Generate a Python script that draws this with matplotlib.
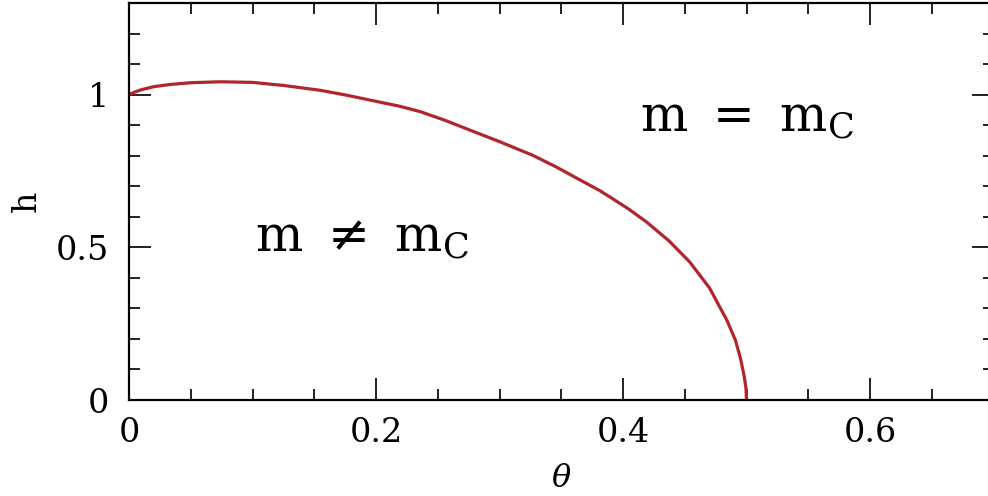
import matplotlib
matplotlib.use("Agg")
import matplotlib.pyplot as plt
from matplotlib.ticker import MultipleLocator

# phase boundary h(theta)
theta = [0.0, 0.005, 0.01, 0.02, 0.033, 0.05, 0.074, 0.10, 0.125, 0.155, 0.175, 0.20,
         0.219, 0.236, 0.255, 0.274, 0.30, 0.327, 0.345, 0.365, 0.381, 0.392, 0.405,
         0.419, 0.437, 0.454, 0.470, 0.484, 0.491, 0.495, 0.498, 0.4995, 0.5]
h = [1.0, 1.009, 1.016, 1.026, 1.033, 1.039, 1.042, 1.040, 1.030, 1.014, 0.999, 0.978,
     0.962, 0.944, 0.917, 0.887, 0.846, 0.801, 0.765, 0.721, 0.686, 0.658, 0.624,
     0.583, 0.522, 0.452, 0.367, 0.262, 0.196, 0.138, 0.080, 0.040, 0.0]

xticks = [0, 0.2, 0.4, 0.6]
xticklabels = ["0", "0.2", "0.4", "0.6"]
yticks = [0, 0.5, 1]
yticklabels = ["0", "0.5", "1"]

plt.rcParams['font.family'] = ['DejaVu Serif']
plt.rcParams['mathtext.fontset'] = 'dejavuserif'

fig = plt.figure(figsize=(9.88, 4.96), dpi=100)
ax = fig.add_axes([0.1306, 0.1935, 0.875, 0.8005])

ax.plot(theta, h, color='#b0262b', lw=2.3, solid_joinstyle='round')

ax.set_xlim(0, 0.7)
ax.set_ylim(0, 1.3)
ax.set_xticks(xticks)
ax.set_xticklabels(xticklabels)
ax.set_yticks(yticks)
ax.set_yticklabels(yticklabels)
ax.xaxis.set_minor_locator(MultipleLocator(0.05))
ax.yaxis.set_minor_locator(MultipleLocator(0.1))
ax.tick_params(which='both', direction='in', top=True, right=True, width=1.3, color='#111111')
ax.tick_params(which='major', length=16, labelsize=24)
ax.tick_params(which='minor', length=8)
ax.tick_params(axis='x', which='major', pad=12)
ax.tick_params(axis='y', which='major', pad=14)
for s in ax.spines.values():
    s.set_linewidth(1.6)

ax.set_xlabel(r'$\theta$', fontsize=23, labelpad=10)
ax.set_ylabel('h', fontsize=24, labelpad=10)

ax.text(0.414, 0.879, r'$\mathrm{m}\ =\ \mathrm{m}_\mathrm{C}$', fontsize=36)
ax.text(0.102, 0.485, r'$\mathrm{m}\ \neq\ \mathrm{m}_\mathrm{C}$', fontsize=36)

fig.savefig('out.png', dpi=100)
